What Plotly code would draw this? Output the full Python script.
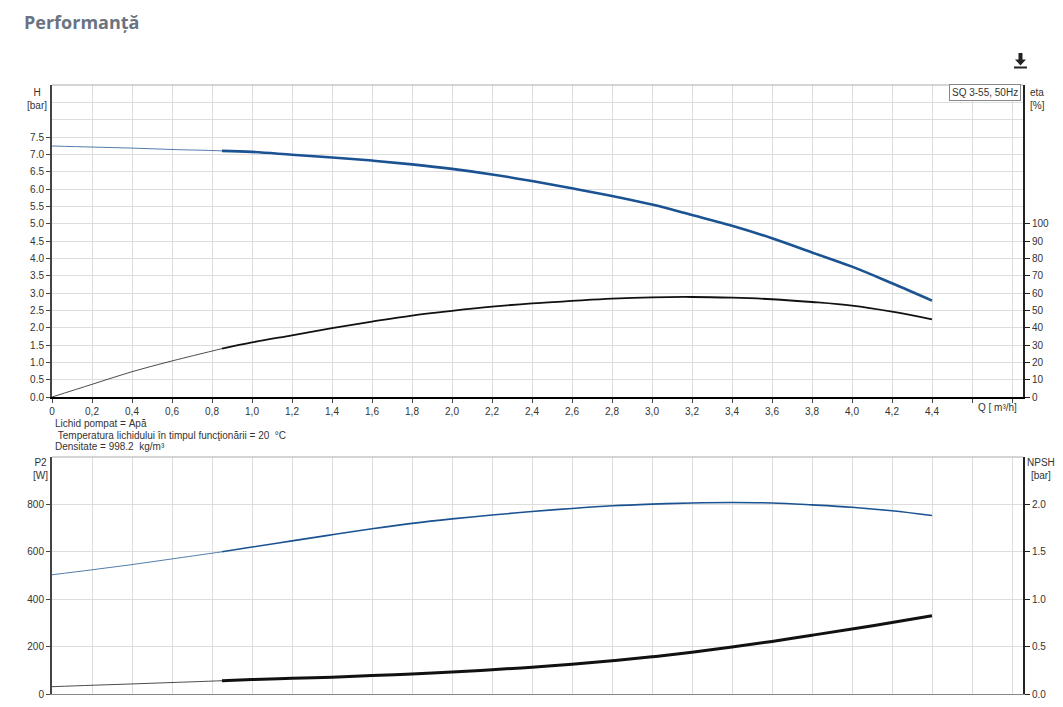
import plotly.graph_objects as go

# ---------------- data ----------------
q_flow = [0, 0.2, 0.4, 0.6, 0.8, 0.85, 1.0, 1.2, 1.4, 1.6, 1.8, 2.0, 2.2, 2.4,
          2.6, 2.8, 3.0, 3.2, 3.4, 3.6, 3.8, 4.0, 4.2, 4.4]
head_bar = [7.24, 7.21, 7.18, 7.14, 7.11, 7.10, 7.07, 6.99, 6.91, 6.82, 6.71, 6.58,
            6.42, 6.23, 6.02, 5.80, 5.55, 5.25, 4.94, 4.58, 4.17, 3.76, 3.28, 2.78]
eta_pct = [0, 7.3, 14.6, 20.8, 26.5, 27.9, 31.5, 35.6, 39.7, 43.5, 47.0, 49.7,
           52.1, 54.0, 55.4, 56.7, 57.5, 57.7, 57.3, 56.4, 54.8, 52.7, 49.2, 44.8]
p2_watt = [503, 524, 546, 570, 594, 600, 620, 646, 672, 697, 720, 739,
           755, 770, 783, 794, 801, 806, 808, 806, 798, 788, 773, 753]
npsh_bar = [0.077, 0.092, 0.106, 0.121, 0.136, 0.140, 0.152, 0.165, 0.178, 0.194,
            0.212, 0.232, 0.256, 0.283, 0.314, 0.350, 0.392, 0.440, 0.495, 0.555,
            0.620, 0.685, 0.755, 0.825]
duty_start = 0.85  # start of the bold (recommended) part of each curve

x_ticks = [0, 0.2, 0.4, 0.6, 0.8, 1.0, 1.2, 1.4, 1.6, 1.8, 2.0, 2.2, 2.4, 2.6,
           2.8, 3.0, 3.2, 3.4, 3.6, 3.8, 4.0, 4.2, 4.4, 4.6, 4.8]
x_tick_text = ["0", "0,2", "0,4", "0,6", "0,8", "1,0", "1,2", "1,4", "1,6", "1,8",
               "2,0", "2,2", "2,4", "2,6", "2,8", "3,0", "3,2", "3,4", "3,6", "3,8",
               "4,0", "4,2", "4,4", "", ""]
h_ticks = [0, 0.5, 1.0, 1.5, 2.0, 2.5, 3.0, 3.5, 4.0, 4.5, 5.0, 5.5, 6.0, 6.5, 7.0, 7.5]
h_tick_text = ["%.1f" % v for v in h_ticks]
eta_ticks = [0, 10, 20, 30, 40, 50, 60, 70, 80, 90, 100]
p2_ticks = [0, 200, 400, 600, 800]
npsh_ticks = [0, 0.5, 1.0, 1.5, 2.0]
npsh_tick_text = ["%.1f" % v for v in npsh_ticks]
pump_label = "SQ 3-55, 50Hz"
notes = ["Lichid pompat = Apă",
         " Temperatura lichidului în timpul funcţionării = 20  °C",
         "Densitate = 998.2  kg/m³"]

# ---------------- layout geometry (page pixels) ----------------
OFF = 8                      # default body margin of the html page
FIG_W, FIG_H = 1063 - OFF, 707 - OFF
L, R, T, B = 52, 1023, 85, 694
TOP_BOTTOM = 397
BOT_TOP = 457
PW, PH = R - L, B - T


def px(x):
    return (x - L) / PW


def py(y):
    return (B - y) / PH


BLUE = "#1a5292"
BLACK = "#111111"
GRID = "#dddddd"
TXT = "#333333"
FONT = "Liberation Sans, Arial, sans-serif"


def split(xs, ys):
    thin_x = [x for x in xs if x <= duty_start]
    thin_y = [y for x, y in zip(xs, ys) if x <= duty_start]
    thick_x = [x for x in xs if x >= duty_start]
    thick_y = [y for x, y in zip(xs, ys) if x >= duty_start]
    return thin_x, thin_y, thick_x, thick_y


fig = go.Figure()


def add_curve(ys, xa, ya, color, thin_w, thick_w, name):
    tx, ty, kx, ky = split(q_flow, ys)
    fig.add_trace(go.Scatter(x=tx, y=ty, xaxis=xa, yaxis=ya, mode="lines",
                             line=dict(color=color, width=thin_w, shape="spline"),
                             opacity=0.75, name=name, showlegend=False, hoverinfo="skip"))
    fig.add_trace(go.Scatter(x=kx, y=ky, xaxis=xa, yaxis=ya, mode="lines",
                             line=dict(color=color, width=thick_w, shape="spline"),
                             name=name, showlegend=False))


add_curve(head_bar, "x", "y", BLUE, 1, 2.6, "H")
add_curve(eta_pct, "x", "y2", BLACK, 1, 1.8, "eta")
add_curve(p2_watt, "x2", "y3", BLUE, 1, 1.6, "P2")
add_curve(npsh_bar, "x2", "y4", BLACK, 1, 3, "NPSH")

xmax = (R - L) / 200.0
top_dom = [py(TOP_BOTTOM), 1.0]
bot_dom = [0.0, py(BOT_TOP)]
tickfont = dict(family=FONT, size=10, color=TXT)

common_x = dict(range=[0, xmax], tickmode="array", tickvals=x_ticks,
                showgrid=True, gridcolor=GRID, gridwidth=1, zeroline=False,
                tickcolor="#444", tickfont=tickfont, fixedrange=True)

m_l = L - OFF
m_t = T - OFF
m_r = FIG_W - m_l - PW
m_b = FIG_H - m_t - PH

fig.update_layout(
    width=FIG_W, height=FIG_H,
    margin=dict(l=m_l, r=m_r, t=m_t, b=m_b, autoexpand=False),
    paper_bgcolor="white", plot_bgcolor="white",
    showlegend=False,
    font=dict(family=FONT, size=10, color=TXT),
    xaxis=dict(common_x, domain=[0, 1], anchor="y", ticktext=x_tick_text,
               ticks="outside", ticklen=4,
               showline=True, linecolor="#000", linewidth=2),
    xaxis2=dict(common_x, domain=[0, 1], anchor="y3", showticklabels=False, ticks="",
                showline=True, linecolor="#888", linewidth=1, matches="x"),
    yaxis=dict(domain=top_dom, range=[0, 9], tickmode="array", tickvals=h_ticks,
               ticktext=h_tick_text, showgrid=True, gridcolor=GRID, zeroline=False,
               showline=True, linecolor="#444", linewidth=2, ticks="outside",
               ticklen=4, tickcolor="#444", tickfont=tickfont, anchor="x",
               minor=dict(tickvals=[8.0, 8.5], showgrid=True, gridcolor=GRID, ticks=""),
               fixedrange=True),
    yaxis2=dict(range=[0, 180], overlaying="y", side="right", anchor="x",
                tickmode="array", tickvals=eta_ticks, showgrid=False, zeroline=False,
                showline=True, linecolor="#222", linewidth=2, ticks="outside",
                ticklen=5, tickcolor="#222", tickfont=tickfont, fixedrange=True),
    yaxis3=dict(domain=bot_dom, range=[0, 1000], tickmode="array", tickvals=p2_ticks,
                showgrid=True, gridcolor=GRID, zeroline=False, showline=True,
                linecolor="#444", linewidth=2, ticks="outside", ticklen=4,
                tickcolor="#444", tickfont=tickfont, anchor="x2", fixedrange=True),
    yaxis4=dict(range=[0, 2.5], overlaying="y3", side="right", anchor="x2",
                tickmode="array", tickvals=npsh_ticks, ticktext=npsh_tick_text,
                showgrid=False, zeroline=False, showline=True, linecolor="#222",
                linewidth=2, ticks="outside", ticklen=5, tickcolor="#222",
                tickfont=tickfont, fixedrange=True),
)

shapes = [
    # top borders of both panels
    dict(type="line", xref="paper", yref="paper", x0=0, x1=1, y0=1, y1=1,
         line=dict(color="#aaaaaa", width=1)),
    dict(type="line", xref="paper", yref="paper", x0=0, x1=1, y0=py(BOT_TOP), y1=py(BOT_TOP),
         line=dict(color="#aaaaaa", width=1)),
    # download icon
    dict(type="path", xref="paper", yref="paper",
         path="M %f %f L %f %f L %f %f L %f %f L %f %f L %f %f L %f %f Z" % (
             px(1018.5), py(53), px(1022.5), py(53), px(1022.5), py(59.5),
             px(1026), py(59.5), px(1020.5), py(65.5), px(1015), py(59.5), px(1018.5), py(59.5)),
         fillcolor="#222", line=dict(width=0)),
    dict(type="line", xref="paper", yref="paper", x0=px(1014), x1=px(1027), y0=py(67.5), y1=py(67.5),
         line=dict(color="#222", width=2)),
]

annotations = [
    dict(text="<b>Performanță</b>", xref="paper", yref="paper", x=px(22), y=py(22),
         xanchor="left", yanchor="middle", showarrow=False,
         font=dict(family="Open Sans, sans-serif", size=18, color="#6b7381")),
    dict(text="H<br>[bar]", xref="paper", yref="paper", x=px(37), y=py(85),
         xanchor="center", yanchor="top", showarrow=False, align="center",
         font=dict(family=FONT, size=10, color=TXT)),
    dict(text="eta<br>[%]", xref="paper", yref="paper", x=px(1028), y=py(85),
         xanchor="left", yanchor="top", showarrow=False, align="left",
         font=dict(family=FONT, size=10, color=TXT)),
    dict(text="P2<br>[W]", xref="paper", yref="paper", x=px(40), y=py(455),
         xanchor="center", yanchor="top", showarrow=False, align="center",
         font=dict(family=FONT, size=10, color=TXT)),
    dict(text="NPSH<br>[bar]", xref="paper", yref="paper", x=px(1041), y=py(455),
         xanchor="center", yanchor="top", showarrow=False, align="center",
         font=dict(family=FONT, size=10, color=TXT)),
    dict(text="Q [ m³/h]", xref="paper", yref="paper", x=px(997), y=py(400),
         xanchor="center", yanchor="top", showarrow=False,
         font=dict(family=FONT, size=10, color=TXT)),
    dict(text=pump_label, xref="paper", yref="paper", x=px(1021), y=py(84),
         xanchor="right", yanchor="top", showarrow=False,
         bgcolor="white", bordercolor="#888", borderwidth=1, borderpad=2,
         font=dict(family=FONT, size=10, color=TXT)),
]
for i, line in enumerate(notes):
    annotations.append(dict(text=line.replace(" ", "&nbsp;"),
                            xref="paper", yref="paper", x=px(53), y=py(423 + 12 * i),
                            xanchor="left", yanchor="middle", showarrow=False,
                            font=dict(family=FONT, size=10, color=TXT)))

fig.update_layout(shapes=shapes, annotations=annotations)
fig.write_html("out.html", config={"displayModeBar": False},
               post_script="document.body.style.overflow='hidden';"
                           "document.documentElement.style.overflow='hidden';")
